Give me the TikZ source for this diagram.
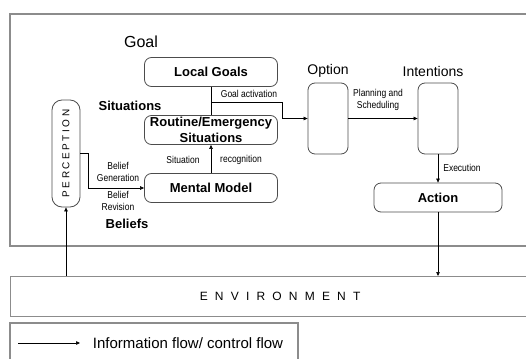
\documentclass[tikz,border=0pt]{standalone}
\usepackage{fontspec}
\setmainfont{Liberation Sans}
\newfontfamily\narrowfont[FakeStretch=0.85]{Liberation Sans}
\newfontfamily\envfont[LetterSpace=60]{Liberation Sans}
\newfontfamily\percfont[LetterSpace=25]{Liberation Sans}
\usetikzlibrary{arrows.meta}

\begin{document}
\begin{tikzpicture}[x=1pt,y=-1pt,
  box/.style={draw=black!70, rounded corners=7pt, line width=0.8pt, inner sep=0pt, align=center,
    font=\bfseries\fontsize{13}{15.5}\selectfont},
  head/.style={inner sep=0pt, font=\fontsize{14}{16}\selectfont},
  small/.style={inner sep=0pt, align=center, font=\narrowfont\fontsize{10}{12}\selectfont},
  flow/.style={draw, line width=0.6pt, -{Triangle[length=4pt,width=3.5pt]}},
  frame/.style={draw=black!45, line width=1.2pt}]
\useasboundingbox (0,0) rectangle (526,358);
\clip (0,0) rectangle (526,358);

% frames
\draw[frame] (10,14) rectangle (540,246);
\node[frame, anchor=north west, minimum width=530, minimum height=40, inner sep=0pt] (env) at (10,276)
  {\envfont\fontsize{12}{14}\selectfont\kern9pt ENVIRONMENT};
\draw[frame] (10,323) rectangle (298,370);

% boxes
\node[box, minimum width=133, minimum height=29] (localgoals) at (211,72) {Local Goals};
\node[box, minimum width=133, minimum height=29] (routine) at (211,130) {Routine/Emergency\\Situations};
\node[box, minimum width=133, minimum height=29] (mental) at (211,188) {Mental Model};
\node[box, minimum width=28, minimum height=107, rounded corners=10pt] (perception) at (66,153.5)
  {\rotatebox{90}{\percfont\mdseries\fontsize{10}{12}\selectfont PERCEPTION}};
\node[box, minimum width=40, minimum height=71] (option) at (328,118.5) {};
\node[box, minimum width=40, minimum height=71] (intentions) at (438,118.5) {};
\node[box, minimum width=128, minimum height=29] (action) at (438,197.5) {Action};

% headings
\node[head, font=\fontsize{16}{18}\selectfont] (goal) at (141,42) {Goal};
\node[head, font=\bfseries\fontsize{13}{16}\selectfont] (situations) at (130,106) {Situations};
\node[head, font=\bfseries\fontsize{13}{16}\selectfont] (beliefs) at (127,224) {Beliefs};
\node[head] (optionlabel) at (328,71) {Option};
\node[head] (intentionslabel) at (433,71) {Intentions};

% small labels
\node[small] (goalact) at (249,94) {Goal activation};
\node[small] (beliefgen) at (118,172) {Belief\\Generation};
\node[small] (beliefrev) at (118,201) {Belief\\Revision};
\node[small] (situation) at (183,160) {Situation};
\node[small] (recognition) at (241,160) {recognition};
\node[small] (planning) at (378,100) {Planning and\\Scheduling};
\node[small] (execution) at (462,168) {Execution};
\node[inner sep=0pt, font=\fontsize{15}{17}\selectfont] (legend) at (188,343) {Information flow/ control flow};

% connectors
\coordinate (ga) at (211,102);
\coordinate (gb) at (282,102);
\coordinate (la) at (18,343);
\coordinate (lb) at (80,343);
\path[draw, line width=0.6pt] (localgoals) -- (routine);
\path[flow] (ga) -- (gb) |- (option.west);
\path[flow] (perception.east) -- ++(8,0) |- (mental.west);
\path[flow] (mental) -- (routine);
\path[flow] (option) -- (intentions);
\path[flow] (intentions) -- (action);
\path[flow] (action.south) -- (action.south |- env.north);
\path[flow] (perception.south |- env.north) -- (perception.south);
\path[flow] (la) -- (lb);
\end{tikzpicture}
\end{document}
